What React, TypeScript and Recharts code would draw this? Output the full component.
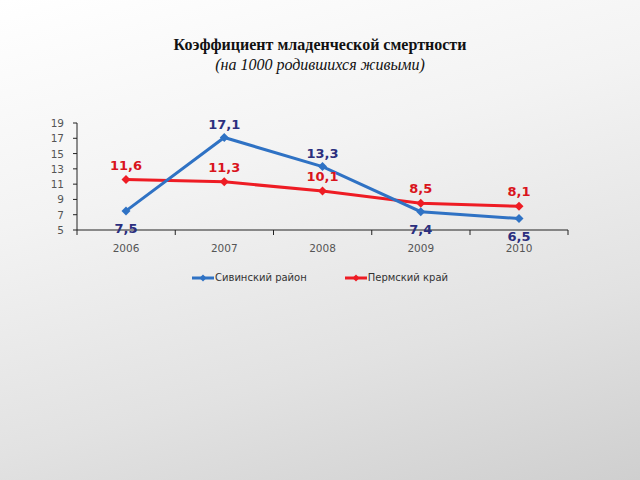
import React from 'react';
import { LineChart, Line, XAxis, YAxis, LabelList } from 'recharts';

const years = ['2006', '2007', '2008', '2009', '2010'];
const sivinskiy = [7.5, 17.1, 13.3, 7.4, 6.5];
const permskiy = [11.6, 11.3, 10.1, 8.5, 8.1];
const yTicks = [5, 7, 9, 11, 13, 15, 17, 19];

const BLUE = '#2f72c4';
const BLUE_LABEL = '#2b2f7e';
const RED = '#ee1c24';
const RED_LABEL = '#d9141c';
const HALF_BAND = 49;

const data = years.map((y, i) => ({ year: y, siv: sivinskiy[i], perm: permskiy[i] }));

const fmt = (v: number) => v.toFixed(1).replace('.', ',');

const Diamond = (color: string) => (props: any) => {
  const { cx, cy } = props;
  if (cx == null || cy == null) return null;
  return <path d={`M${cx},${cy - 4.5}L${cx + 4.5},${cy}L${cx},${cy + 4.5}L${cx - 4.5},${cy}Z`} fill={color} />;
};

const XTick = (props: any) => {
  const { x, y, payload, index } = props;
  return (
    <g>
      <line x1={x - HALF_BAND} y1={y - 8} x2={x - HALF_BAND} y2={y - 3} stroke="#222" />
      {index === years.length - 1 && (
        <line x1={x + HALF_BAND} y1={y - 8} x2={x + HALF_BAND} y2={y - 3} stroke="#222" />
      )}
      <text x={x} y={y + 14} textAnchor="middle" fill="#555" fontSize={10.5} fontFamily="DejaVu Sans">
        {payload.value}
      </text>
    </g>
  );
};

const YTick = (props: any) => {
  const { x, y, payload } = props;
  return (
    <text x={x - 7} y={y + 4} textAnchor="end" fill="#555" fontSize={10.5} fontFamily="DejaVu Sans">
      {payload.value}
    </text>
  );
};

const blueLabel = (props: any) => {
  const { x, y, value, index } = props;
  const below = value < permskiy[index];
  return (
    <text x={x} y={below ? y + 22 : y - 9} textAnchor="middle" fill={BLUE_LABEL}
      fontSize={13} fontWeight="bold" fontFamily="DejaVu Sans">
      {fmt(value)}
    </text>
  );
};

const redLabel = (props: any) => {
  const { x, y, value } = props;
  return (
    <text x={x} y={y - 10} textAnchor="middle" fill={RED_LABEL}
      fontSize={13} fontWeight="bold" fontFamily="DejaVu Sans">
      {fmt(value)}
    </text>
  );
};

const LegendItem = ({ color, label }: { color: string; label: string }) => (
  <span style={{ display: 'inline-flex', alignItems: 'center', marginRight: 38 }}>
    <svg width={22} height={10}>
      <line x1={0} y1={5} x2={22} y2={5} stroke={color} strokeWidth={3} />
      <path d="M11,1.5L14.5,5L11,8.5L7.5,5Z" fill={color} />
    </svg>
    <span style={{ marginLeft: 1 }}>{label}</span>
  </span>
);

export default function App() {
  return (
    <div style={{
      position: 'absolute', left: 0, top: 0, width: 640, height: 480, overflow: 'hidden',
      background: 'linear-gradient(165deg, #ffffff 0%, #f3f3f3 35%, #e2e2e2 70%, #cfcfcf 100%)',
    }}>
      <div style={{
        position: 'absolute', top: 36, left: 0, width: 640, textAlign: 'center',
        fontFamily: '"Liberation Serif", "Times New Roman", serif', fontSize: 16, color: '#111',
      }}>
        <div style={{ fontWeight: 'bold' }}>Коэффициент младенческой смертности</div>
        <div style={{ fontStyle: 'italic', marginTop: 2 }}>(на 1000 родившихся живыми)</div>
      </div>
      <div style={{ position: 'absolute', left: 0, top: 0 }}>
        <LineChart width={640} height={480} data={data}
          margin={{ top: 123, right: 72, bottom: 220, left: 17 }}>
          <XAxis dataKey="year" padding={{ left: HALF_BAND, right: HALF_BAND }}
            stroke="#222" tickLine={false} tick={<XTick />} height={30} interval={0} />
          <YAxis domain={[5, 19]} ticks={yTicks} interval={0} width={60} stroke="#222" tickSize={4}
            tick={<YTick />} />
          <Line dataKey="perm" stroke={RED} strokeWidth={3} dot={Diamond(RED)}
            activeDot={false} isAnimationActive={false}>
            <LabelList dataKey="perm" content={redLabel} />
          </Line>
          <Line dataKey="siv" stroke={BLUE} strokeWidth={3} dot={Diamond(BLUE)}
            activeDot={false} isAnimationActive={false}>
            <LabelList dataKey="siv" content={blueLabel} />
          </Line>
        </LineChart>
      </div>
      <div style={{
        position: 'absolute', top: 272, left: 192, display: 'flex',
        fontFamily: 'DejaVu Sans', fontSize: 10, color: '#333',
      }}>
        <LegendItem color={BLUE} label="Сивинский район" />
        <LegendItem color={RED} label="Пермский край" />
      </div>
    </div>
  );
}
